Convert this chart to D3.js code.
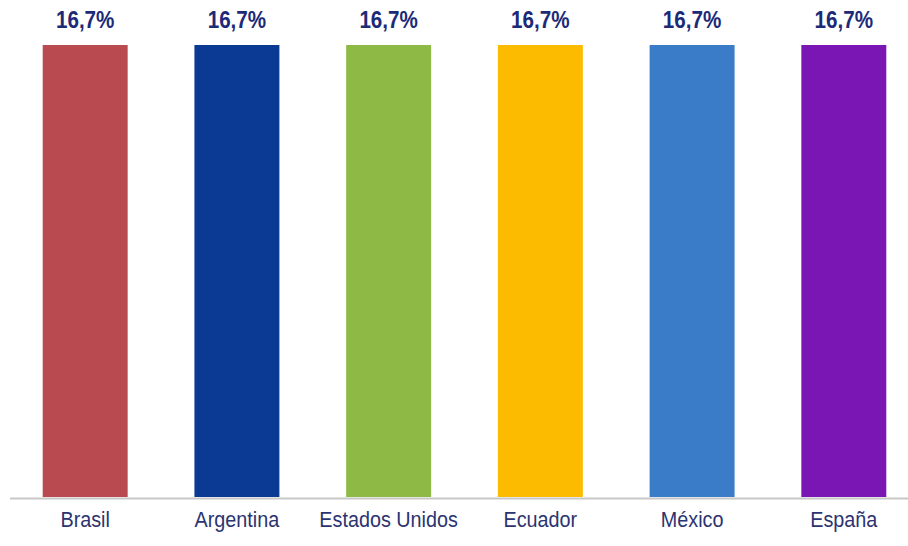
<!DOCTYPE html>
<html><head><meta charset="utf-8">
<script src="https://cdn.jsdelivr.net/npm/d3@7"></script>
<style>body{margin:0;background:#fff}svg{display:block}</style>
</head><body>
<svg id="c" width="908" height="546"></svg>
<script>
const categories = ["Brasil","Argentina","Estados Unidos","Ecuador","México","España"];
const values = [16.7,16.7,16.7,16.7,16.7,16.7];
const valueLabels = ["16,7%","16,7%","16,7%","16,7%","16,7%","16,7%"];
const colors = ["#b94a50","#0a3a94","#8db944","#fdbb00","#3b7cc8","#7a16b4"];

const svg = d3.select("#c");
const x = d3.scaleBand().domain(categories).range([21,908]).paddingInner(0.44).paddingOuter(0.143);
const y = d3.scaleLinear().domain([0,16.7]).range([497,45]);
const font = "'Liberation Sans Narrow','Arial Narrow','Liberation Sans',Arial,sans-serif";

svg.selectAll("rect.bar").data(categories).enter().append("rect")
  .attr("class","bar")
  .attr("x",d=>x(d)).attr("width",x.bandwidth())
  .attr("y",(d,i)=>y(values[i])).attr("height",(d,i)=>y(0)-y(values[i]))
  .attr("fill",(d,i)=>colors[i]);

svg.append("line").attr("x1",10).attr("x2",908).attr("y1",498.5).attr("y2",498.5)
  .attr("stroke","#c8c8c8").attr("stroke-width",2);

svg.selectAll("text.val").data(categories).enter().append("text")
  .attr("class","val")
  .attr("transform",(d,i)=>`translate(${x(d)+x.bandwidth()/2},${y(values[i])-17}) scale(0.86,1)`)
  .attr("text-anchor","middle").attr("font-family",font).attr("font-weight","bold")
  .attr("font-size",24).attr("fill","#1c2a78")
  .text((d,i)=>valueLabels[i]);

const ax = svg.append("g").attr("transform","translate(0,498)")
  .call(d3.axisBottom(x).tickSize(0).tickPadding(13));
ax.select(".domain").remove();
ax.selectAll("text").attr("font-family",font).attr("font-size",22).attr("fill","#2b3470")
  .attr("transform","scale(0.9,1)");
</script>
</body></html>
